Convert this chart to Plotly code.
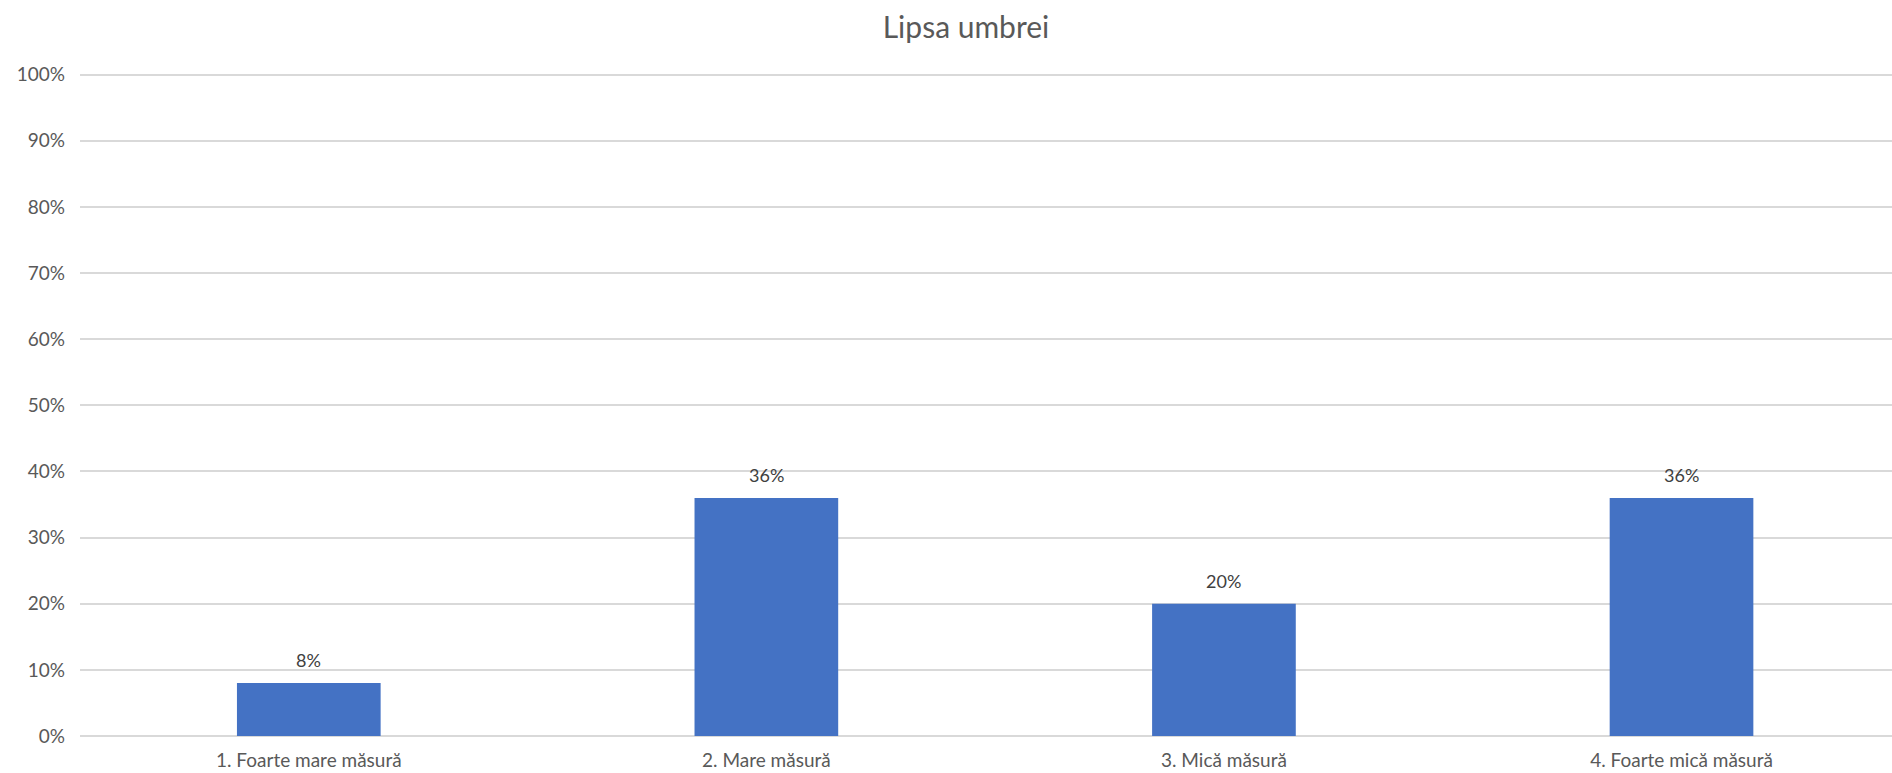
import plotly.graph_objects as go

# Survey answers for "Lipsa umbrei" (share of respondents)
categories = ["1. Foarte mare măsură", "2. Mare măsură", "3. Mică măsură", "4. Foarte mică măsură"]
shares = [0.08, 0.36, 0.20, 0.36]
label_texts = ["8%", "36%", "20%", "36%"]
y_tick_values = [0, 0.1, 0.2, 0.3, 0.4, 0.5, 0.6, 0.7, 0.8, 0.9, 1.0]
y_tick_labels = ["0%", "10%", "20%", "30%", "40%", "50%", "60%", "70%", "80%", "90%", "100%"]

FONT = "Lato"
BAR_COLOR = "#4472C4"
GRID_COLOR = "#D9D9D9"

fig = go.Figure()
fig.add_trace(go.Bar(
    x=list(range(len(categories))),
    y=shares,
    width=0.314,
    marker=dict(color=BAR_COLOR, line=dict(width=0)),
    hoverinfo="skip",
))

# Value labels sitting just above each bar
for i, (v, t) in enumerate(zip(shares, label_texts)):
    fig.add_annotation(
        x=i, y=v, text=t, showarrow=False,
        yanchor="bottom", yshift=10,
        font=dict(family=FONT, size=18, color="#404040"),
    )

fig.update_layout(
    width=1892, height=773,
    margin=dict(l=80, r=0, t=68, b=37),
    paper_bgcolor="white", plot_bgcolor="white",
    showlegend=False,
    title=dict(
        text="Lipsa umbrei",
        x=966 / 1892, xanchor="center", xref="container",
        y=1 - 27 / 773, yanchor="middle", yref="container",
        font=dict(family=FONT, size=30, color="#595959"),
    ),
    xaxis=dict(
        tickmode="array",
        tickvals=list(range(len(categories))),
        ticktext=categories,
        range=[-0.5, 3.46],
        showgrid=False, zeroline=False, showline=False,
        ticks="",
        tickfont=dict(family=FONT, size=19, color="#595959"),
        ticklabelstandoff=11,
    ),
    yaxis=dict(
        range=[0, 1.01],
        tickmode="array",
        tickvals=y_tick_values,
        ticktext=y_tick_labels,
        showgrid=True, gridcolor=GRID_COLOR, gridwidth=1.5,
        zeroline=True, zerolinecolor=GRID_COLOR, zerolinewidth=1.5,
        showline=False, ticks="",
        tickfont=dict(family=FONT, size=19, color="#595959"),
        ticklabelstandoff=14,
    ),
)

fig.write_html("out.html")
